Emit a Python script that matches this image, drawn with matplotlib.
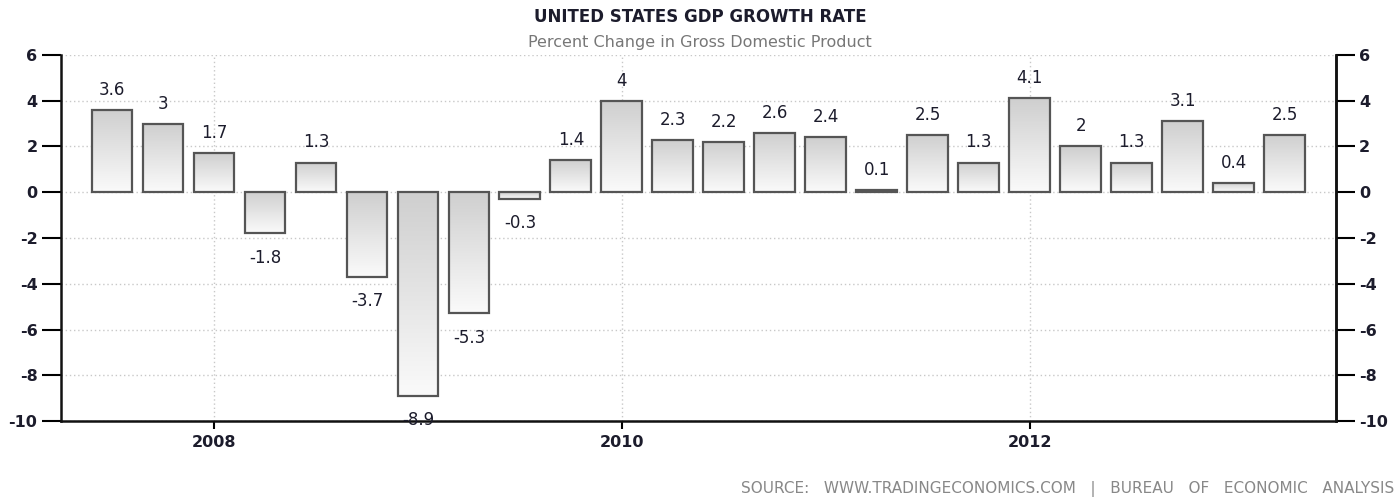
import numpy as np
import matplotlib
matplotlib.use('Agg')
import matplotlib.pyplot as plt
from matplotlib.colors import LinearSegmentedColormap

# quarterly GDP growth (annualised, %)
quarters = ['2007Q3', '2007Q4', '2008Q1', '2008Q2', '2008Q3', '2008Q4',
            '2009Q1', '2009Q2', '2009Q3', '2009Q4', '2010Q1', '2010Q2',
            '2010Q3', '2010Q4', '2011Q1', '2011Q2', '2011Q3', '2011Q4',
            '2012Q1', '2012Q2', '2012Q3', '2012Q4', '2013Q1', '2013Q2']
growth = [3.6, 3, 1.7, -1.8, 1.3, -3.7, -8.9, -5.3, -0.3, 1.4, 4, 2.3,
          2.2, 2.6, 2.4, 0.1, 2.5, 1.3, 4.1, 2, 1.3, 3.1, 0.4, 2.5]
year_ticks = [2008, 2010, 2012]
y_ticks = [-10, -8, -6, -4, -2, 0, 2, 4, 6]

# quarter start as decimal year
xs = np.array([int(q[:4]) + (int(q[-1]) - 1) / 4 for q in quarters])

txt = '#1c1c2c'
fig = plt.figure(figsize=(14, 4.99), dpi=100)
ax = fig.add_axes([0.0436, 0.1563, 0.9104, 0.7335])

bars = ax.bar(xs, growth, width=0.2, facecolor='none', edgecolor='#555555',
              linewidth=1.6, zorder=3)
cmap = LinearSegmentedColormap.from_list('g', ['#fafafa', '#cfcfcf'])
grad = np.linspace(0, 1, 64).reshape(-1, 1)
for b in bars:
    x0, y0 = b.get_x(), b.get_y()
    w, h = b.get_width(), b.get_height()
    top, bot = max(y0, y0 + h), min(y0, y0 + h)
    im = ax.imshow(grad, extent=[x0, x0 + w, bot, top], origin='lower',
                   aspect='auto', cmap=cmap, zorder=2, interpolation='bilinear')
    im.set_clip_path(b)

for x, v in zip(xs, growth):
    if v >= 0:
        ax.annotate(f'{v:g}', (x, v), xytext=(0, 8), textcoords='offset points',
                    ha='center', va='bottom', fontsize=12, color=txt)
    else:
        ax.annotate(f'{v:g}', (x, v), xytext=(0, -11), textcoords='offset points',
                    ha='center', va='top', fontsize=12, color=txt)

ax.set_xlim(2007.25, 2013.5)
ax.set_ylim(-10, 6)
ax.set_xticks(year_ticks)
ax.set_xticklabels([str(y) for y in year_ticks], fontsize=11.5, color=txt,
                   fontweight='bold')
ax.set_yticks(y_ticks)
ax.set_yticklabels([str(y) for y in y_ticks], fontsize=11.5, color=txt,
                   fontweight='bold')
ax.tick_params(axis='y', length=14, width=1.5, direction='out', pad=3)
ax.tick_params(axis='x', length=6, width=1.5, direction='out', pad=4)
ax.grid(True, color='#c8c8c8', linestyle=(0, (1, 2)), linewidth=1, zorder=0)
ax.set_axisbelow(True)
ax.spines['top'].set_visible(False)
for s in ['left', 'bottom', 'right']:
    ax.spines[s].set_linewidth(1.8)
    ax.spines[s].set_color('#111111')

ax2 = ax.twinx()
ax2.set_ylim(-10, 6)
ax2.set_yticks(y_ticks)
ax2.set_yticklabels([str(y) for y in y_ticks], fontsize=11.5, color=txt,
                    fontweight='bold')
ax2.tick_params(axis='y', length=14, width=1.5, direction='out', pad=3)
for s in ['top', 'left', 'bottom']:
    ax2.spines[s].set_visible(False)
ax2.spines['right'].set_linewidth(1.8)
ax2.spines['right'].set_color('#111111')

fig.text(0.5, 0.965, 'UNITED STATES GDP GROWTH RATE', ha='center', va='center',
         fontsize=12, fontweight='bold', color=txt)
fig.text(0.5, 0.915, 'Percent Change in Gross Domestic Product', ha='center',
         va='center', fontsize=11.5, color='#777777')
fig.text(0.996, 0.02,
         'SOURCE:   WWW.TRADINGECONOMICS.COM   |   BUREAU   OF   ECONOMIC   ANALYSIS',
         ha='right', va='center', fontsize=11, color='#888888')

plt.savefig('out.png', dpi=100)
